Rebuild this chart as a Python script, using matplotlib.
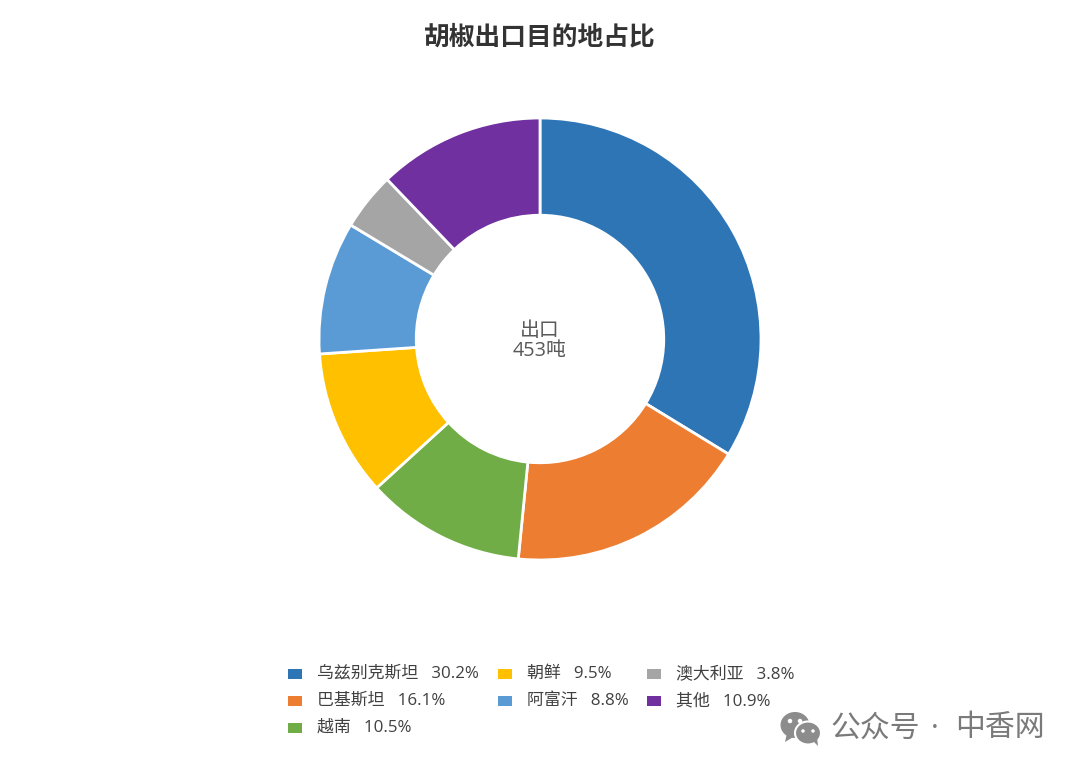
import matplotlib
matplotlib.use('Agg')
import matplotlib.pyplot as plt
from matplotlib.patches import Rectangle, Ellipse, Polygon

plt.rcParams['font.family'] = ['Open Sans', 'Noto Sans CJK SC', 'DejaVu Sans']

W, H = 1080, 772

labels = ['乌兹别克斯坦', '巴基斯坦', '越南', '朝鲜', '阿富汗', '澳大利亚', '其他']
printed = ['30.2%', '16.1%', '10.5%', '9.5%', '8.8%', '3.8%', '10.9%']
shares = [34.4, 18.2, 11.9, 10.9, 9.9, 4.3, 12.4]
colors = ['#2e75b6', '#ed7d31', '#70ad47', '#ffc000', '#5b9bd5', '#a5a5a5', '#7030a0']

fig = plt.figure(figsize=(W / 100, H / 100), dpi=100)
ax = fig.add_axes([0, 0, 1, 1])
ax.set_xlim(0, W)
ax.set_ylim(H, 0)
ax.axis('off')

# ring, drawn in its own axes so the pie stays round
R = 221
cx, cy = 540, 339
pie_ax = fig.add_axes([(cx - R) / W, 1 - (cy + R) / H, 2 * R / W, 2 * R / H])
pie_ax.pie(shares, colors=colors, startangle=90, counterclock=False, radius=1,
           wedgeprops=dict(width=0.44, edgecolor='white', linewidth=2.0))
pie_ax.set_xlim(-1, 1)
pie_ax.set_ylim(-1, 1)

ax.text(540, 37, '胡椒出口目的地占比', ha='center', va='center', fontsize=18.5,
        fontweight='bold', color='#333333')
ax.text(540, 331, '出口', ha='center', va='center', fontsize=14.3, color='#595959')
ax.text(540, 351, '453吨', ha='center', va='center', fontsize=14.3, color='#595959')

# legend, filled column by column
col_x = [288, 498, 647]
row_y = [674, 701, 728]
slots = [(0, 0), (0, 1), (0, 2), (1, 0), (1, 1), (2, 0), (2, 1)]
for (c, r), name, pct, col in zip(slots, labels, printed, colors):
    ax.add_patch(Rectangle((col_x[c], row_y[r] - 5), 14, 10, color=col, lw=0))
    ax.text(col_x[c] + 29, row_y[r], f'{name}   {pct}', ha='left', va='center',
            fontsize=12.2, color='#404040')

# watermark, the two chat bubbles first
grey = '#8c8c8c'
ax.add_patch(Ellipse((795, 725), 29, 26, color=grey, lw=0))
ax.add_patch(Polygon([(787, 733), (785, 742), (795, 736)], color=grey, lw=0))
ax.add_patch(Ellipse((808, 733), 26, 23, facecolor=grey, edgecolor='white', lw=1.5))
ax.add_patch(Polygon([(813, 741), (818, 746), (817, 737)], color=grey, lw=0))
for ex, ey, d in [(790, 721, 4.5), (800, 721, 4.5), (803, 731, 3.5), (813, 731, 3.5)]:
    ax.add_patch(Ellipse((ex, ey), d, d, color='white', lw=0))
ax.text(830, 729, '公众号', ha='left', va='center', fontsize=21.5, color='#7a7a7a')
ax.text(935, 729, '·', ha='center', va='center', fontsize=21.5, color='#7a7a7a')
ax.text(1045, 729, '中香网', ha='right', va='center', fontsize=21.5, color='#7a7a7a')

fig.savefig('out.png', dpi=100)
